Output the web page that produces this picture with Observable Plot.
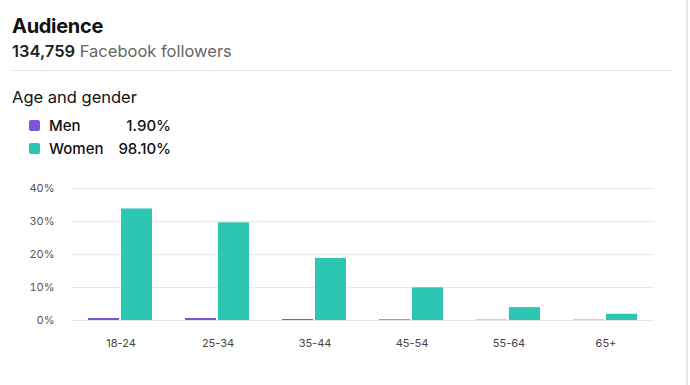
<!DOCTYPE html>
<html>
<head>
<meta charset="utf-8">
<script src="https://cdn.jsdelivr.net/npm/d3@7"></script>
<script src="https://cdn.jsdelivr.net/npm/@observablehq/plot@0.6"></script>
<style>
  html, body { margin: 0; padding: 0; background: #fff; }
  body { width: 690px; height: 385px; position: relative; overflow: hidden; font-family: Inter, "Noto Sans", sans-serif; color: #111; }
  .title { position: absolute; left: 12px; top: 14px; font-size: 20px; font-weight: 700; letter-spacing: -0.3px; }
  .sub { position: absolute; left: 12px; top: 41px; font-size: 16.5px; color: #666; }
  .sub b { color: #222; font-weight: 600; }
  .sep { position: absolute; left: 12px; top: 70px; width: 660px; height: 1px; background: #e6e6e6; }
  .border { position: absolute; left: 686px; top: 0; width: 2px; height: 385px; background: #e8e8e8; }
  .sec { position: absolute; left: 12px; top: 87px; font-size: 16.5px; color: #111; }
  .legend { position: absolute; left: 29px; top: 116px; font-size: 15px; font-weight: 500; color: #111; }
  .row { position: relative; height: 23px; width: 145px; }
  .sw { position: absolute; left: 0; top: 4px; width: 11px; height: 11px; border-radius: 2px; }
  .lab { position: absolute; left: 20px; top: 0; }
  .val { position: absolute; right: 3px; top: 0; }
  #chart { position: absolute; left: 0; top: 170px; }
</style>
</head>
<body>
<div class="title">Audience</div>
<div class="sub"><b>134,759</b> Facebook followers</div>
<div class="sep"></div>
<div class="border"></div>
<div class="sec">Age and gender</div>
<div class="legend" id="legend"></div>
<div id="chart"></div>
<script>
const ages = ["18-24", "25-34", "35-44", "45-54", "55-64", "65+"];
const genders = ["Men", "Women"];
const genderShares = ["1.90%", "98.10%"];
const genderColors = ["#7b55d9", "#2dc6b2"];
const menValues = [0.6, 0.6, 0.3, 0.2, 0.1, 0.1];
const womenValues = [33.8, 29.6, 18.8, 9.9, 3.9, 1.9];
const yTicks = [0, 10, 20, 30, 40];

const legend = document.getElementById("legend");
genders.forEach((g, i) => {
  const row = document.createElement("div");
  row.className = "row";
  row.innerHTML = `<span class="sw" style="background:${genderColors[i]}"></span><span class="lab">${g}</span><span class="val">${genderShares[i]}</span>`;
  legend.appendChild(row);
});

const data = [];
ages.forEach((a, i) => {
  data.push({age: a, gender: "Men", value: menValues[i]});
  data.push({age: a, gender: "Women", value: womenValues[i]});
});

const chart = Plot.plot({
  width: 690,
  height: 200,
  marginTop: 18,
  marginBottom: 50,
  marginLeft: 70,
  marginRight: 35,
  style: {fontFamily: "Inter, 'Noto Sans', sans-serif", fontSize: "11px", color: "#555", background: "transparent"},
  fx: {domain: ages, padding: 0, label: null},
  x: {domain: genders, paddingInner: 0.06, paddingOuter: 0.48, axis: null},
  y: {domain: [0, 40], label: null},
  color: {domain: genders, range: genderColors},
  marks: [
    Plot.gridY(yTicks, {stroke: "#e9e9e9", strokeOpacity: 1}),
    Plot.axisY(yTicks, {tickSize: 0, tickPadding: 18, tickFormat: d => d + "%", label: null, fill: "#555"}),
    Plot.axisFx({anchor: "bottom", tickSize: 0, tickPadding: 19, label: null, fill: "#444"}),
    Plot.barY(data, {fx: "age", x: "gender", y: "value", fill: "gender"})
  ]
});
document.getElementById("chart").appendChild(chart);
</script>
</body>
</html>
